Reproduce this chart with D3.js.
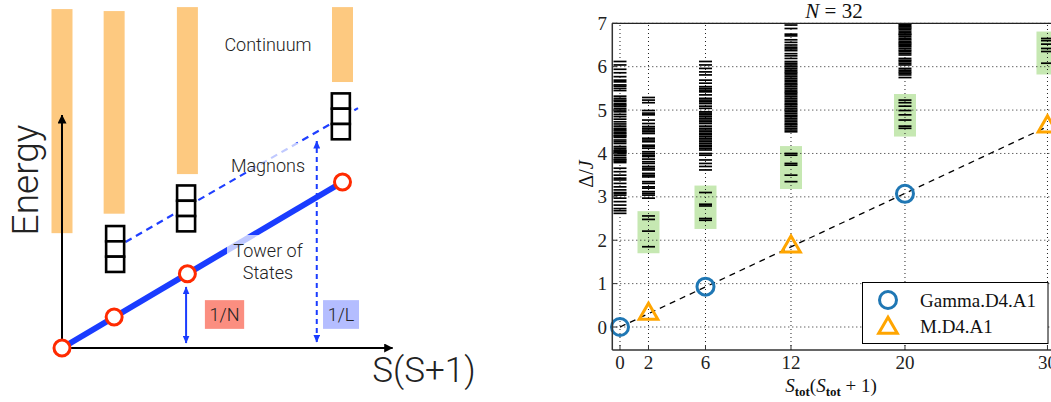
<!DOCTYPE html>
<html><head><meta charset="utf-8">
<script src="https://cdn.jsdelivr.net/npm/d3@7"></script>
<style>body{margin:0;background:#fff}svg{display:block}</style>
</head><body><svg id="c" width="1051" height="402"></svg>
<script>
// ================= LEFT SCHEMATIC DATA (schematic units) =================
const towerX = [0, 1.58, 3.8, 8.5];
const towerE = [0, 0.94, 2.25, 5.03];
const contLow = [3.48, 4.07, 5.27, 8.06];
const contHigh = [10.27, 10.21, 10.33, 10.33];
const magnonX = [1.61, 3.76, 8.45];
const magnonE = [3.0, 4.23, 7.02];
const magnonLineX = [1.61, 8.97];
const magnonLineE = [3.03, 7.27];
const gapNX = 3.76, gapNE = [0.15, 1.85];
const gapLX = 7.72, gapLE = [0.18, 6.27];
const labelNBox = [4.33, 5.52, 0.58, 1.45];
const labelLBox = [7.91, 9.0, 0.58, 1.45];

// ================= RIGHT CHART DATA =================
const stateX = [0, 2, 6, 12, 20, 30];
const xTickLabels = ["0", "2", "6", "12", "20", "30"];
const yTicks = [0, 1, 2, 3, 4, 5, 6, 7];
const levels0 = [6.12,6.04,5.94,5.86,5.77,5.69,5.65,5.58,5.55,5.50,5.45,5.32,5.27,5.23,5.20,5.15,5.12,5.09,5.04,5.00,4.96,4.90,4.85,4.79,4.73,4.68,4.63,4.58,4.55,4.52,4.48,4.46,4.42,4.40,4.37,4.31,4.27,4.23,4.16,4.12,4.08,4.06,4.04,4.02,4.00,3.96,3.91,3.87,3.85,3.82,3.79,3.66,3.58,3.50,3.43,3.39,3.31,3.23,3.16,3.10,3.08,3.04,2.97,2.89,2.81,2.73,2.68,2.62];
const levels2 = [5.29,5.23,5.17,4.99,4.93,4.89,4.77,4.69,4.62,4.58,4.54,4.50,4.46,4.35,4.31,4.27,4.19,4.16,4.12,4.04,4.00,3.96,3.93,3.87,3.81,3.77,3.70,3.66,3.62,3.54,3.50,3.46,3.35,3.31,3.23,3.20,3.12,3.08,3.04,2.97];
const levels6 = [6.12,6.04,5.96,5.88,5.81,5.69,5.62,5.54,5.50,5.46,5.42,5.35,5.27,5.23,5.19,5.15,5.09,5.04,4.96,4.93,4.89,4.85,4.81,4.77,4.73,4.69,4.63,4.58,4.54,4.50,4.46,4.43,4.39,4.35,4.31,4.27,4.23,4.19,4.16,4.12,4.08,4.00,3.96,3.85,3.77,3.70,3.62];
const levels12 = [6.96,6.88,6.75,6.71,6.62,6.56,6.50,6.45,6.41,6.37,6.30,6.25,6.19,6.12,6.08,6.04,6.00,5.96,5.92,5.88,5.85,5.81,5.77,5.73,5.69,5.65,5.61,5.58,5.54,5.50,5.46,5.42,5.39,5.35,5.31,5.27,5.23,5.19,5.15,5.12,5.08,5.04,5.00,4.96,4.92,4.88,4.85,4.81,4.77,4.73,4.69,4.66,4.62,4.58,4.54,4.50];
const levels20 = [6.98,6.95,6.92,6.89,6.86,6.82,6.78,6.75,6.73,6.69,6.65,6.62,6.58,6.55,6.52,6.49,6.46,6.42,6.38,6.35,6.31,6.27,6.19,6.15,6.12,6.08,6.04,5.96,5.92,5.88,5.85,5.81,5.75];
const levels30 = [];
const green2 = [2.56, 2.48, 2.21, 1.85];
const green6 = [3.10, 2.83, 2.79, 2.50, 2.46];
const green12 = [4.00, 3.96, 3.77, 3.73, 3.50, 3.35];
const green20 = [5.23, 5.17, 5.09, 4.99, 4.89, 4.77, 4.63, 4.58];
const green30 = [6.65, 6.60, 6.52, 6.42, 6.35, 6.08];
const greenX = [2, 6, 12, 20, 30];
const greenLo = [1.70, 2.26, 3.18, 4.39, 5.82];
const greenHi = [2.67, 3.26, 4.17, 5.37, 6.81];
const gammaX = [0, 6, 20];
const gammaY = [0, 0.93, 3.07];
const mX = [2, 12, 30];
const mY = [0.30, 1.85, 4.62];
const fitX = [0, 30];
const fitY = [0, 4.62];
const seriesNames = ["Gamma.D4.A1", "M.D4.A1"];

const svg = d3.select("#c");
const defs = svg.append("defs");
function marker(id, color, w, l) {
  defs.append("marker").attr("id", id).attr("viewBox", `0 0 ${l} ${w}`)
    .attr("refX", l - 0.5).attr("refY", w / 2).attr("markerWidth", l).attr("markerHeight", w)
    .attr("markerUnits", "userSpaceOnUse").attr("orient", "auto-start-reverse")
    .append("path").attr("d", `M0,0L${l},${w/2}L0,${w}Z`).attr("fill", color);
}
marker("ahK", "#000", 9, 9);
marker("ahB", "#1a3cff", 7, 8);

// ================= LEFT PANEL =================
const xL = d3.scaleLinear().domain([0, 10]).range([62, 392]);
const yL = d3.scaleLinear().domain([0, 10]).range([348, 18]);
const sansF = "Roboto, 'Liberation Sans', sans-serif";
const L = svg.append("g");

L.selectAll("rect.cont").data(towerX).join("rect").attr("class", "cont")
  .attr("x", d => xL(d) - 10.5).attr("width", 21)
  .attr("y", (d, i) => yL(contHigh[i])).attr("height", (d, i) => yL(contLow[i]) - yL(contHigh[i]))
  .attr("fill", "#fdc980");

L.append("line").attr("x1", xL(0)).attr("y1", yL(0)).attr("x2", xL(0)).attr("y2", yL(7.06))
  .attr("stroke", "#000").attr("stroke-width", 2).attr("marker-end", "url(#ahK)");
L.append("line").attr("x1", xL(0)).attr("y1", yL(0)).attr("x2", xL(10.02)).attr("y2", yL(0))
  .attr("stroke", "#000").attr("stroke-width", 2).attr("marker-end", "url(#ahK)");

L.append("line").attr("x1", xL(magnonLineX[0])).attr("y1", yL(magnonLineE[0]))
  .attr("x2", xL(magnonLineX[1])).attr("y2", yL(magnonLineE[1]))
  .attr("stroke", "#1f3fff").attr("stroke-width", 2.2).attr("stroke-dasharray", "7,5");

L.append("line").attr("x1", xL(towerX[0])).attr("y1", yL(towerE[0]))
  .attr("x2", xL(towerX[3])).attr("y2", yL(towerE[3]))
  .attr("stroke", "#1a3cff").attr("stroke-width", 6);

L.append("line").attr("x1", xL(gapNX)).attr("y1", yL(gapNE[0])).attr("x2", xL(gapNX)).attr("y2", yL(gapNE[1]))
  .attr("stroke", "#1a3cff").attr("stroke-width", 2)
  .attr("marker-start", "url(#ahB)").attr("marker-end", "url(#ahB)");
L.append("line").attr("x1", xL(gapLX)).attr("y1", yL(gapLE[0])).attr("x2", xL(gapLX)).attr("y2", yL(gapLE[1]))
  .attr("stroke", "#1a3cff").attr("stroke-width", 2).attr("stroke-dasharray", "5,4")
  .attr("marker-start", "url(#ahB)").attr("marker-end", "url(#ahB)");

magnonX.forEach((mx, i) => {
  const cx = xL(mx), cy = yL(magnonE[i]), h = 15.3, w = 18;
  for (let k = 0; k < 3; k++) {
    L.append("rect").attr("x", cx - w / 2).attr("y", cy - 1.5 * h + k * h)
      .attr("width", w).attr("height", h).attr("fill", "#fff")
      .attr("stroke", "#000").attr("stroke-width", 2.6);
  }
});

L.append("rect").attr("x", 227).attr("y", 235).attr("width", 84).attr("height", 55)
  .attr("fill", "#fff").attr("opacity", 0.72);
L.append("rect").attr("x", 249).attr("y", 143).attr("width", 52).attr("height", 35)
  .attr("fill", "#fff").attr("opacity", 0.72);

L.selectAll("circle.t").data(towerX).join("circle").attr("class", "t")
  .attr("cx", d => xL(d)).attr("cy", (d, i) => yL(towerE[i])).attr("r", 8)
  .attr("fill", "#fff").attr("stroke", "#ff2a00").attr("stroke-width", 3);

[[labelNBox, "#fb8e80", "1/N"], [labelLBox, "#b4bdff", "1/L"]].forEach(([b, c, t]) => {
  L.append("rect").attr("x", xL(b[0])).attr("y", yL(b[3])).attr("width", xL(b[1]) - xL(b[0]))
    .attr("height", yL(b[2]) - yL(b[3])).attr("fill", c);
  L.append("text").attr("x", (xL(b[0]) + xL(b[1])) / 2).attr("y", (yL(b[2]) + yL(b[3])) / 2 + 6.5)
    .attr("text-anchor", "middle").attr("font-family", sansF).attr("font-weight", 300)
    .attr("font-size", 18).attr("fill", "#222").text(t);
});

function ltext(x, y, s, size) {
  return L.append("text").attr("x", x).attr("y", y).attr("text-anchor", "middle")
    .attr("font-family", sansF).attr("font-weight", 300).attr("font-size", size).attr("fill", "#222").text(s);
}
ltext(268, 51, "Continuum", 18);
ltext(268, 172, "Magnons", 18);
ltext(268, 257, "Tower of", 18);
ltext(268, 279, "States", 18);
ltext(424, 382, "S(S+1)", 35);
L.append("text").attr("transform", "translate(38,180) rotate(-90)").attr("text-anchor", "middle")
  .attr("font-family", sansF).attr("font-weight", 300).attr("font-size", 37).attr("fill", "#222").text("Energy");

// ================= RIGHT PANEL =================
const serif = "'Liberation Serif', 'DejaVu Serif', serif";
const x = d3.scaleLinear().domain([-0.54, 30.5]).range([612.3, 1054.6]);
const y = d3.scaleLinear().domain([-0.53, 7]).range([350, 23.3]);
const R = svg.append("g");

R.selectAll("rect.g").data(greenX).join("rect").attr("class", "g")
  .attr("x", d => x(d) - 11).attr("width", 22)
  .attr("y", (d, i) => y(greenHi[i])).attr("height", (d, i) => y(greenLo[i]) - y(greenHi[i]))
  .attr("fill", "#c6e8b2");

R.selectAll("line.gx").data(stateX).join("line").attr("class", "gx")
  .attr("x1", d => x(d)).attr("x2", d => x(d)).attr("y1", y(-0.53)).attr("y2", y(7))
  .attr("stroke", "#222").attr("stroke-width", 1).attr("stroke-dasharray", "1,3");
R.selectAll("line.gy").data(yTicks).join("line").attr("class", "gy")
  .attr("x1", x(-0.54)).attr("x2", 1051).attr("y1", d => y(d)).attr("y2", d => y(d))
  .attr("stroke", "#222").attr("stroke-width", 1).attr("stroke-dasharray", "1,3");

const allLevels = [levels0, levels2, levels6, levels12, levels20, levels30];
const allGreen = [[], green2, green6, green12, green20, green30];
stateX.forEach((sx, i) => {
  const lv = allLevels[i].concat(allGreen[i]);
  R.selectAll(null).data(lv).join("line")
    .attr("x1", x(sx) - 6.5).attr("x2", x(sx) + 6.5)
    .attr("y1", d => y(d)).attr("y2", d => y(d))
    .attr("stroke", "#000").attr("stroke-width", 1.7);
});

R.append("line").attr("x1", x(fitX[0])).attr("y1", y(fitY[0])).attr("x2", x(fitX[1])).attr("y2", y(fitY[1]))
  .attr("stroke", "#000").attr("stroke-width", 1.3).attr("stroke-dasharray", "6,5");

const blue = "#1f77b4", orange = "#ffa500";
R.selectAll("circle.gm").data(gammaX).join("circle").attr("class", "gm")
  .attr("cx", d => x(d)).attr("cy", (d, i) => y(gammaY[i])).attr("r", 8.5)
  .attr("fill", "none").attr("stroke", blue).attr("stroke-width", 3);
const tri = d3.symbol().type(d3.symbolTriangle).size(150);
R.selectAll("path.mm").data(mX).join("path").attr("class", "mm")
  .attr("d", tri).attr("transform", (d, i) => `translate(${x(d)},${y(mY[i])})`)
  .attr("fill", "none").attr("stroke", orange).attr("stroke-width", 3).attr("stroke-linejoin", "miter");

R.append("line").attr("x1", x(-0.54)).attr("x2", x(-0.54)).attr("y1", y(-0.53)).attr("y2", y(7))
  .attr("stroke", "#333").attr("stroke-width", 1.5);
R.append("line").attr("x1", x(-0.54)).attr("x2", 1051).attr("y1", y(-0.53)).attr("y2", y(-0.53))
  .attr("stroke", "#333").attr("stroke-width", 1.5);
R.append("line").attr("x1", x(-0.54)).attr("x2", 1051).attr("y1", y(7)).attr("y2", y(7))
  .attr("stroke", "#222").attr("stroke-width", 1.3);
R.selectAll("line.tx").data(stateX).join("line").attr("class", "tx")
  .attr("x1", d => x(d)).attr("x2", d => x(d)).attr("y1", y(-0.53)).attr("y2", y(-0.53) - 5)
  .attr("stroke", "#333").attr("stroke-width", 1);
R.selectAll("line.ty").data(yTicks).join("line").attr("class", "ty")
  .attr("x1", x(-0.54)).attr("x2", x(-0.54) + 5).attr("y1", d => y(d)).attr("y2", d => y(d))
  .attr("stroke", "#333").attr("stroke-width", 1);
R.selectAll("text.xl").data(stateX).join("text").attr("class", "xl")
  .attr("x", d => x(d)).attr("y", 369).attr("text-anchor", "middle")
  .attr("font-family", serif).attr("font-size", 19).attr("fill", "#222").text((d, i) => xTickLabels[i]);
R.selectAll("text.yl").data(yTicks).join("text").attr("class", "yl")
  .attr("x", 607).attr("y", d => y(d) + 6.5).attr("text-anchor", "end")
  .attr("font-family", serif).attr("font-size", 19).attr("fill", "#222").text(d => d);

const ti = R.append("text").attr("x", 834).attr("y", 18).attr("text-anchor", "middle")
  .attr("font-family", serif).attr("font-size", 21).attr("fill", "#111");
ti.append("tspan").attr("font-style", "italic").text("N");
ti.append("tspan").text(" = 32");

const xl = R.append("text").attr("x", 831).attr("y", 392).attr("text-anchor", "middle")
  .attr("font-family", serif).attr("font-size", 19).attr("fill", "#111");
xl.append("tspan").attr("font-style", "italic").text("S");
xl.append("tspan").attr("font-size", 13).attr("font-weight", "bold").attr("dy", 4).text("tot");
xl.append("tspan").attr("dy", -4).text("(");
xl.append("tspan").attr("font-style", "italic").text("S");
xl.append("tspan").attr("font-size", 13).attr("font-weight", "bold").attr("dy", 4).text("tot");
xl.append("tspan").attr("dy", -4).text(" + 1)");

const yl = R.append("text").attr("transform", "translate(593,174) rotate(-90)").attr("text-anchor", "middle")
  .attr("font-family", serif).attr("font-size", 20).attr("fill", "#111");
yl.append("tspan").text("Δ/");
yl.append("tspan").attr("font-style", "italic").text("J");

const lg = R.append("g");
lg.append("rect").attr("x", 862.5).attr("y", 282.5).attr("width", 185.5).attr("height", 61)
  .attr("fill", "#fff").attr("stroke", "#000").attr("stroke-width", 1);
lg.append("circle").attr("cx", 888).attr("cy", 300).attr("r", 8.5)
  .attr("fill", "none").attr("stroke", blue).attr("stroke-width", 3);
lg.append("path").attr("d", tri).attr("transform", "translate(888,328)")
  .attr("fill", "none").attr("stroke", orange).attr("stroke-width", 3);
seriesNames.forEach((n, i) => {
  lg.append("text").attr("x", 920).attr("y", 307 + i * 26).attr("font-family", serif)
    .attr("font-size", 19).attr("fill", "#111").text(n);
});
</script></body></html>
